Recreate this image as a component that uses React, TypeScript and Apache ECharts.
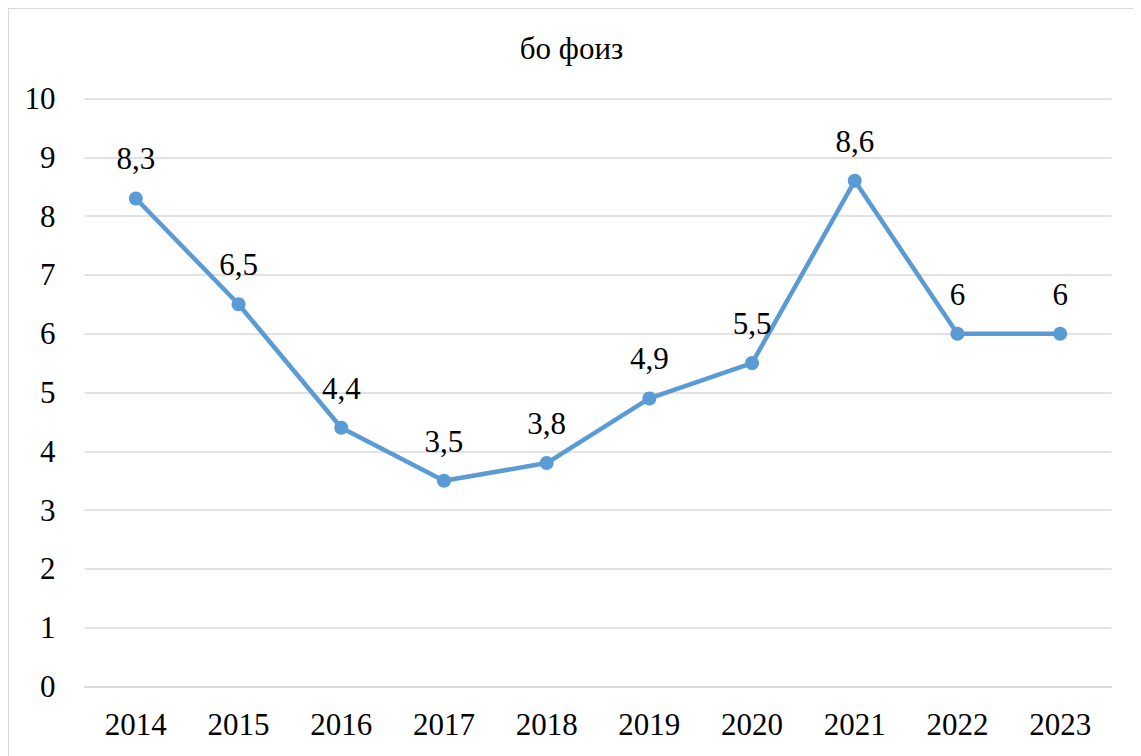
import React, { useEffect, useRef } from "react";
import * as echarts from "echarts";

const title = "бо фоиз";
const years = ["2014", "2015", "2016", "2017", "2018", "2019", "2020", "2021", "2022", "2023"];
const values = [8.3, 6.5, 4.4, 3.5, 3.8, 4.9, 5.5, 8.6, 6, 6];
const yMin = 0;
const yMax = 10;
const yStep = 1;

const FONT = "Times New Roman, Liberation Serif, serif";
const FS = 31;

export default function App() {
  const ref = useRef<HTMLDivElement>(null);
  useEffect(() => {
    if (!ref.current) return;
    const chart = echarts.init(ref.current, undefined, { renderer: "svg" });
    chart.setOption({
      animation: false,
      backgroundColor: "#ffffff",
      textStyle: { fontFamily: FONT },
      title: {
        text: title,
        left: "center",
        top: 19,
        textStyle: { fontFamily: FONT, fontSize: FS, fontWeight: "normal", color: "#000" },
      },
      grid: { left: 75.5, right: 22.5, top: 89.5, bottom: 79.5 },
      xAxis: {
        type: "category",
        data: years,
        axisLine: { show: true, lineStyle: { color: "#d9d9d9", width: 1.5 } },
        axisTick: { show: false },
        axisLabel: { fontFamily: FONT, fontSize: FS, color: "#000", margin: 22 },
      },
      yAxis: {
        type: "value",
        min: yMin,
        max: yMax,
        interval: yStep,
        axisLine: { show: false },
        axisTick: { show: false },
        splitLine: { lineStyle: { color: "#d9d9d9", width: 1.5 } },
        axisLabel: { fontFamily: FONT, fontSize: FS, color: "#000", margin: 29 },
      },
      series: [
        {
          type: "line",
          data: values,
          lineStyle: { color: "#5b9bd5", width: 4.5 },
          itemStyle: { color: "#5b9bd5" },
          symbol: "circle",
          symbolSize: 14,
          label: {
            show: true,
            position: "top",
            distance: 17,
            fontFamily: FONT,
            fontSize: FS,
            color: "#000",
            formatter: (p: any) => String(p.value).replace(".", ","),
          },
        },
      ],
    });
    return () => chart.dispose();
  }, []);
  return (
    <div style={{ width: 1128, height: 760, border: "1.5px solid #d9d9d9", boxSizing: "border-box", background: "#fff" }}>
      <div ref={ref} style={{ width: 1125, height: 757 }} />
    </div>
  );
}
